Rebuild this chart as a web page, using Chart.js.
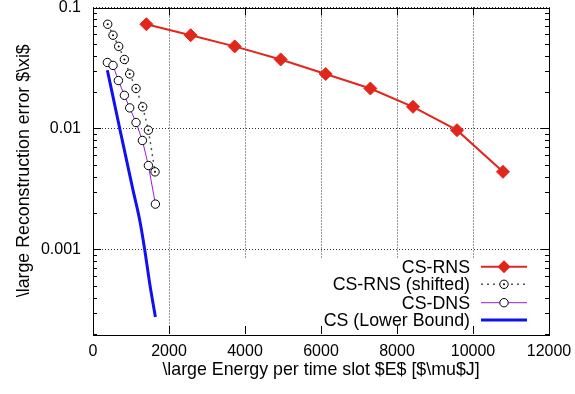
<!DOCTYPE html>
<html><head><meta charset="utf-8">
<script src="https://cdn.jsdelivr.net/npm/chart.js@4.4.1/dist/chart.umd.min.js"></script>
<style>html,body{margin:0;padding:0;background:#fff;}#wrap{width:575px;height:394px;position:relative;}</style>
</head><body><div id="wrap"><canvas id="c" width="575" height="394"></canvas></div>
<script>
const seriesNames = ['CS-RNS', 'CS-RNS (shifted)', 'CS-DNS', 'CS (Lower Bound)'];
const rnsEnergy = [1405, 2571, 3729, 4939, 6123, 7299, 8421, 9579, 10789];
const rnsError = [0.0727, 0.0590, 0.0477, 0.0372, 0.0282, 0.0214, 0.0151, 0.00968, 0.00438];
const shiftedEnergy = [387, 527, 676, 826, 966, 1132, 1308, 1458, 1632];
const shiftedError = [0.0727, 0.0590, 0.0477, 0.0372, 0.0282, 0.0214, 0.0151, 0.00968, 0.00438];
const dnsEnergy = [378, 527, 668, 826, 966, 1132, 1300, 1458, 1642];
const dnsError = [0.0351, 0.0332, 0.0249, 0.0188, 0.0148, 0.0112, 0.00796, 0.00494, 0.00237];
const lbEnergy = [378, 703, 1053, 1229, 1360, 1492, 1642];
const lbError = [0.0303, 0.0100, 0.00309, 0.00175, 0.00100, 0.000524, 0.000277];
const xTicks = [0, 2000, 4000, 6000, 8000, 10000, 12000];
const yTicks = [0.001, 0.01, 0.1];
const yTickLabels = ['0.001', '0.01', '0.1'];
const xTitle = '\\large Energy per time slot $E$ [$\\mu$J]';
const yTitle = '\\large Reconstruction error $\\xi$';

const FONT = "'Liberation Sans', Arial, Helvetica, sans-serif";
const RED = '#e3261c', GREY = '#555555', PURPLE = '#9a1ae0', BLUE = '#1010f0';

function pts(xs, ys) { return xs.map((x, i) => ({x: x, y: ys[i]})); }

const decor = {
  id: 'decor',
  beforeDatasetsDraw(chart) {
    const ctx = chart.ctx, a = chart.chartArea;
    ctx.save();
    ctx.fillStyle = '#fff';
    ctx.fillRect(230, 258, a.right - 230, a.bottom - 258);
    ctx.restore();
  },
  afterDatasetsDraw(chart) {
    // centre dots of the "shifted" markers, at the library-computed point positions
    const ctx = chart.ctx;
    const meta = chart.getDatasetMeta(1);
    ctx.save();
    ctx.fillStyle = '#000';
    meta.data.forEach(p => { ctx.beginPath(); ctx.arc(p.x, p.y, 1, 0, Math.PI*2); ctx.fill(); });
    ctx.restore();
  },
  afterDraw(chart) {
    const ctx = chart.ctx, a = chart.chartArea;
    const xs = chart.scales.x, ys = chart.scales.y;
    ctx.save();
    ctx.strokeStyle = '#000'; ctx.lineWidth = 1;
    ctx.beginPath();
    xTicks.forEach(v => {
      const p = Math.round(xs.getPixelForValue(v)) + 0.5;
      ctx.moveTo(p, a.bottom); ctx.lineTo(p, a.bottom - 8);
      ctx.moveTo(p, a.top); ctx.lineTo(p, a.top + 8);
    });
    for (let e = -4; e <= -1; e++) {
      for (let m = 1; m <= 9; m++) {
        const v = m * Math.pow(10, e);
        if (v < ys.min * 0.999 || v > ys.max * 1.001) continue;
        const p = Math.round(ys.getPixelForValue(v)) + 0.5;
        const L = (m === 1) ? 8 : 4;
        ctx.moveTo(a.left, p); ctx.lineTo(a.left + L, p);
        ctx.moveTo(a.right, p); ctx.lineTo(a.right - L, p);
      }
    }
    ctx.stroke();
    ctx.strokeRect(Math.round(a.left) + 0.5, Math.round(a.top) + 0.5,
                   Math.round(a.right - a.left), Math.round(a.bottom - a.top));
    // legend
    const rows = [266.7, 284.3, 302.7, 320];
    const tx = 470, l0 = 481, l1 = 527, mx = 504;
    ctx.font = '17.8px ' + FONT;
    ctx.fillStyle = '#000'; ctx.textAlign = 'right'; ctx.textBaseline = 'middle';
    seriesNames.forEach((n, i) => ctx.fillText(n, tx, rows[i] + 1));
    ctx.strokeStyle = RED; ctx.lineWidth = 2;
    ctx.beginPath(); ctx.moveTo(l0, rows[0]); ctx.lineTo(l1, rows[0]); ctx.stroke();
    ctx.fillStyle = RED; ctx.beginPath();
    ctx.moveTo(mx - 6.5, rows[0]); ctx.lineTo(mx, rows[0] - 6.5); ctx.lineTo(mx + 6.5, rows[0]); ctx.lineTo(mx, rows[0] + 6.5); ctx.closePath(); ctx.fill();
    ctx.strokeStyle = GREY; ctx.lineWidth = 1.5; ctx.setLineDash([2, 4]);
    ctx.beginPath(); ctx.moveTo(l0, rows[1]); ctx.lineTo(l1, rows[1]); ctx.stroke();
    ctx.setLineDash([]);
    ctx.lineWidth = 1;
    ctx.beginPath(); ctx.arc(mx, rows[1], 4.2, 0, Math.PI*2); ctx.fillStyle = '#fff'; ctx.fill();
    ctx.strokeStyle = '#000'; ctx.stroke();
    ctx.beginPath(); ctx.arc(mx, rows[1], 1, 0, Math.PI*2); ctx.fillStyle = '#000'; ctx.fill();
    ctx.strokeStyle = PURPLE; ctx.lineWidth = 1;
    ctx.beginPath(); ctx.moveTo(l0, rows[2]); ctx.lineTo(l1, rows[2]); ctx.stroke();
    ctx.beginPath(); ctx.arc(mx, rows[2], 4.2, 0, Math.PI*2); ctx.fillStyle = '#fff'; ctx.fill();
    ctx.strokeStyle = '#000'; ctx.stroke();
    ctx.strokeStyle = BLUE; ctx.lineWidth = 3;
    ctx.beginPath(); ctx.moveTo(l0, rows[3]); ctx.lineTo(l1, rows[3]); ctx.stroke();
    ctx.restore();
  }
};

new Chart(document.getElementById('c'), {
  type: 'line',
  data: {
    datasets: [
      { label: seriesNames[0], data: pts(rnsEnergy, rnsError), borderColor: RED, backgroundColor: RED,
        borderWidth: 2, pointStyle: 'rectRot', pointRadius: 6.5, pointBackgroundColor: RED, pointBorderColor: RED, pointBorderWidth: 1, tension: 0 },
      { label: seriesNames[1], data: pts(shiftedEnergy, shiftedError), borderColor: GREY, borderWidth: 1.5, borderDash: [2, 4],
        pointStyle: 'circle', pointRadius: 4.2, pointBackgroundColor: '#fff', pointBorderColor: '#000', pointBorderWidth: 1, tension: 0 },
      { label: seriesNames[2], data: pts(dnsEnergy, dnsError), borderColor: PURPLE, borderWidth: 1,
        pointStyle: 'circle', pointRadius: 4.2, pointBackgroundColor: '#fff', pointBorderColor: '#000', pointBorderWidth: 1, tension: 0 },
      { label: seriesNames[3], data: pts(lbEnergy, lbError), borderColor: BLUE, borderWidth: 3,
        pointRadius: 0, tension: 0.3, cubicInterpolationMode: 'monotone' }
    ]
  },
  options: {
    responsive: false, animation: false, events: [],
    layout: { padding: { top: 7, right: 26, bottom: 0, left: 0 } },
    plugins: { legend: { display: false }, tooltip: { enabled: false } },
    scales: {
      x: {
        type: 'linear', min: 0, max: 12000,
        afterBuildTicks: s => { s.ticks = xTicks.map(v => ({ value: v })); },
        afterFit: s => { s.height = 60; s.paddingLeft = 0; s.paddingRight = 0; },
        ticks: { callback: v => String(v), color: '#000', font: { family: FONT, size: 16 }, padding: 8, maxRotation: 0 },
        grid: { drawTicks: false, color: '#333', lineWidth: 1 },
        border: { display: false, dash: [1, 2] },
        title: { display: true, text: xTitle, color: '#000', font: { family: FONT, size: 17.8 }, padding: { top: 0, bottom: 13 } }
      },
      y: {
        type: 'logarithmic', min: 0.0002, max: 0.1,
        afterBuildTicks: s => { s.ticks = yTicks.map(v => ({ value: v })); },
        afterFit: s => { s.width = 93; s.paddingTop = 0; s.paddingBottom = 0; },
        ticks: { callback: (v) => { const i = yTicks.findIndex(t => Math.abs(t - v) / t < 1e-6); return i >= 0 ? yTickLabels[i] : ''; },
                 color: '#000', font: { family: FONT, size: 16 }, padding: 12 },
        grid: { drawTicks: false, color: '#333', lineWidth: 1 },
        border: { display: false, dash: [1, 2] },
        title: { display: true, text: yTitle, color: '#000', font: { family: FONT, size: 17.8 }, padding: { top: 13, bottom: 0 } }
      }
    }
  },
  plugins: [decor]
});
</script>
</body></html>
